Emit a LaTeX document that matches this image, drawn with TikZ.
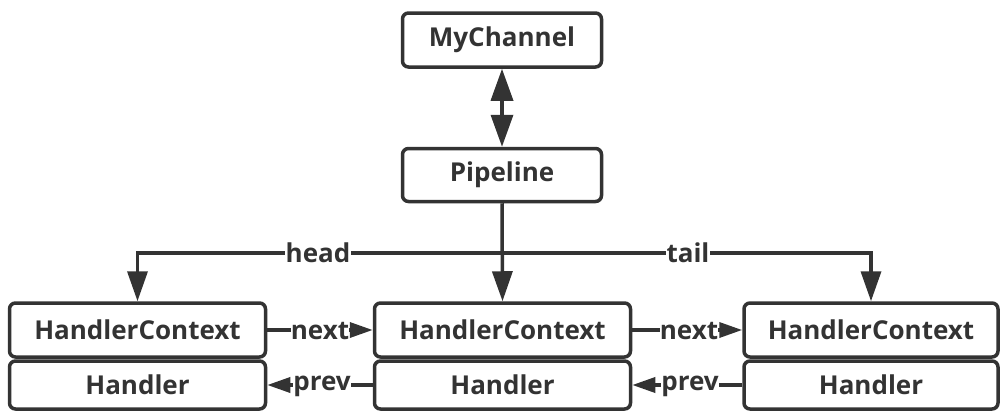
\documentclass[tikz,border=0pt]{standalone}
\usepackage{fontspec}
\setmainfont{Open Sans}
\usetikzlibrary{arrows.meta}
\definecolor{ink}{HTML}{333333}
\tikzset{
  >={Triangle[length=30pt,width=20pt]},
  small/.style={>={Triangle[length=23pt,width=15pt]}},
  big/.style={>={Triangle[length=32pt,width=22pt]}},
  box/.style={draw=ink, line width=3.5pt, rounded corners=6pt, fill=white, text=ink, font=\fontsize{26}{28}\selectfont\bfseries, inner sep=0pt},
  conn/.style={draw=ink, line width=3.5pt, ->},
  lbl/.style={fill=white, text=ink, font=\fontsize{26}{28}\selectfont\bfseries, inner sep=1pt}
}
\begin{document}
\begin{tikzpicture}[x=1pt,y=-1pt]
\useasboundingbox (0,0) rectangle (1001,418);
\node[box, minimum width=199pt, minimum height=54pt] (mc) at (502,40) {MyChannel};
\node[box, minimum width=199pt, minimum height=53pt] (pl) at (502,175) {Pipeline};
\node[box, minimum width=256pt, minimum height=54pt] (hc1) at (137.5,330) {HandlerContext};
\node[box, minimum width=256pt, minimum height=48pt] (h1) at (137.5,385) {Handler};
\node[box, minimum width=256pt, minimum height=54pt] (hc2) at (502.5,330) {HandlerContext};
\node[box, minimum width=256pt, minimum height=48pt] (h2) at (502.5,385) {Handler};
\node[box, minimum width=254pt, minimum height=54pt] (hc3) at (871,330) {HandlerContext};
\node[box, minimum width=254pt, minimum height=48pt] (h3) at (871,385) {Handler};
\draw[conn, big, <->] (mc.south) -- (pl.north);
\coordinate (j) at (502,253);
\draw[conn] (pl.south) -- (hc2.north);
\draw[conn] (j) -| (hc1.north);
\draw[conn] (j) -| (hc3.north);
\node[lbl] (head) at (318,253) {head};
\node[lbl] (tail) at (688,253) {tail};
\draw[conn, small] (hc1.east) -- (hc2.west);
\draw[conn, small] (hc2.east) -- (hc3.west);
\draw[conn, small] (h2.west) -- (h1.east);
\draw[conn, small] (h3.west) -- (h2.east);
\node[lbl, inner sep=0pt] (n1) at (320,331) {next};
\node[lbl, inner sep=0pt] (n2) at (689,331) {next};
\node[lbl, inner sep=0pt] (p1) at (322,386) {prev};
\node[lbl, inner sep=0pt] (p2) at (690,386) {prev};
\end{tikzpicture}
\end{document}
